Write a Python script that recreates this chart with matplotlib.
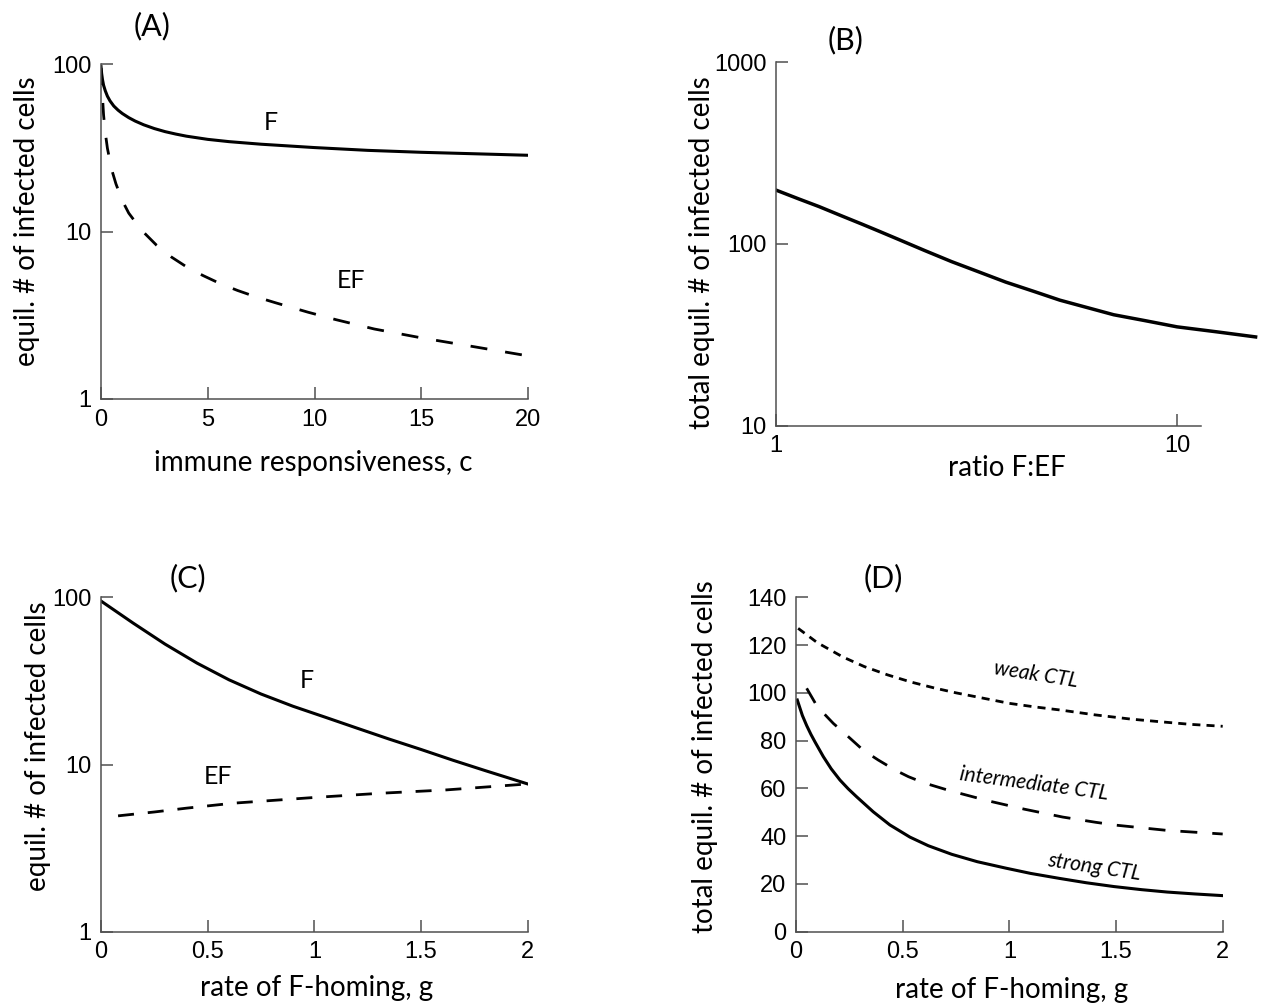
import matplotlib
matplotlib.use('Agg')
import matplotlib.pyplot as plt
from matplotlib.ticker import NullLocator

# ---------------- data ----------------
# Panel A: equilibrium vs immune responsiveness c
A_c_F = [0, 0.03, 0.07, 0.12, 0.2, 0.3, 0.42, 0.6, 0.8, 1.0, 1.3, 1.6, 2.0, 2.5, 3.0, 3.5, 4.0,
         5.0, 6.0, 7.5, 10, 12.5, 15, 17.5, 20]
A_F = [97, 88, 81, 75, 69.5, 64.5, 60.5, 56.3, 53.2, 50.8, 48.0, 45.8, 43.5, 41.3, 39.6, 38.3, 37.2,
       35.6, 34.5, 33.3, 31.8, 30.6, 29.8, 29.2, 28.6]
A_c_EF = [0, 0.05, 0.12, 0.19, 0.3, 0.5, 0.7, 1.0, 1.3, 1.9, 2.6, 3.3, 4.1, 4.8, 5.6, 6.4, 7.2,
          8.2, 9.7, 11, 12.8, 15, 17.5, 20]
A_EF = [95, 70, 50, 40, 31.5, 23.5, 19.3, 15.3, 12.9, 10.2, 8.3, 7.05, 6.05, 5.45, 4.88, 4.45, 4.1,
        3.75, 3.3, 2.98, 2.62, 2.32, 2.05, 1.81]
A_xticks = [0, 5, 10, 15, 20]
A_yticks = [1, 10, 100]

# Panel B: total equilibrium vs ratio F:EF
B_ratio = [1, 1.14, 1.28, 1.45, 1.64, 1.8, 2.01, 2.35, 2.74, 3.2, 3.74, 4.4, 5.1, 5.9, 6.95, 8.3,
           10, 12.5, 15.7]
B_total = [198, 177, 160.7, 143.5, 128.5, 118, 106.5, 92, 80.0, 70.3, 61.7, 54.8, 49.1, 45.0, 40.8,
           37.9, 35.0, 32.9, 30.8]
B_xticks = [1, 10]
B_yticks = [10, 100, 1000]

# Panel C: equilibrium vs rate of F-homing g
C_g_F = [0, 0.15, 0.3, 0.45, 0.6, 0.75, 0.9, 1.05, 1.2, 1.35, 1.5, 1.65, 1.8, 2.0]
C_F = [95, 70.2, 52.5, 40.4, 32.1, 26.4, 22.3, 19.2, 16.5, 14.2, 12.3, 10.6, 9.2, 7.65]
C_g_EF = [0.08, 0.25, 0.4, 0.62, 1.0, 1.31, 1.62, 2.0]
C_EF = [4.93, 5.2, 5.48, 5.87, 6.35, 6.73, 7.05, 7.65]
C_xticks = [0, 0.5, 1, 1.5, 2]
C_xticklabels = ['0', '0.5', '1', '1.5', '2']
C_yticks = [1, 10, 100]

# Panel D: total equilibrium vs g for three CTL strengths
D_g_weak = [0.01, 0.1, 0.22, 0.32, 0.43, 0.54, 0.65, 0.75, 1.0, 1.12, 1.24, 1.4, 1.57, 1.72, 1.85, 2.0]
D_weak = [127, 121, 115, 111, 107.5, 104.5, 102, 100, 95.6, 94.1, 92.8, 90.8, 89, 87.8, 86.8, 86]
D_g_inter = [0.05, 0.1, 0.175, 0.237, 0.315, 0.385, 0.464, 0.527, 0.6, 0.7, 0.765, 0.9, 1.07, 1.25,
             1.405, 1.5, 1.74, 2.0]
D_inter = [101.9, 94.2, 87.2, 82.3, 76, 71.9, 67.7, 64.9, 62.3, 59.6, 58.0, 54.8, 51.3, 48.0,
           45.8, 44.6, 42.4, 40.9]
D_g_strong = [0.006, 0.03, 0.05, 0.07, 0.09, 0.128, 0.165, 0.206, 0.245, 0.284, 0.362, 0.44, 0.534,
              0.62, 0.73, 0.85, 0.984, 1.1, 1.236, 1.36, 1.49, 1.62, 1.74, 1.87, 2.0]
D_strong = [97, 90.5, 86.3, 82.6, 79.3, 73.3, 68.2, 63.5, 59.8, 56.5, 50.2, 44.7, 39.6, 36.0, 32.4,
            29.3, 26.6, 24.4, 22.3, 20.5, 18.9, 17.6, 16.6, 15.8, 15.1]
D_xticks = [0, 0.5, 1, 1.5, 2]
D_xticklabels = ['0', '0.5', '1', '1.5', '2']
D_yticks = [0, 20, 40, 60, 80, 100, 120, 140]

# ---------------- figure ----------------
plt.rcParams['font.family'] = ['Lato', 'DejaVu Sans']
W, H = 1264, 1008
fig = plt.figure(figsize=(W / 100, H / 100), dpi=100)

SPINE = '#505050'
TICKFONT = 'Liberation Sans'
TICKSIZE = 17


def box(l, t, r, b):
    return [l / W, 1 - b / H, (r - l) / W, (b - t) / H]


def ftext(x, y, s, **kw):
    kw.setdefault('ha', 'center')
    kw.setdefault('va', 'center')
    fig.text(x / W, 1 - y / H, s, **kw)


def style(ax, xticks, xlabels, yticks, ylabels):
    for s in ['top', 'right']:
        ax.spines[s].set_visible(False)
    for s in ['left', 'bottom']:
        ax.spines[s].set_color(SPINE)
        ax.spines[s].set_linewidth(1.1)
    ax.set_xticks(xticks)
    ax.set_xticklabels(xlabels, fontfamily=TICKFONT, fontsize=TICKSIZE)
    ax.set_yticks(yticks)
    ax.set_yticklabels(ylabels, fontfamily=TICKFONT, fontsize=TICKSIZE)
    ax.xaxis.set_minor_locator(NullLocator())
    ax.yaxis.set_minor_locator(NullLocator())
    ax.tick_params(direction='in', length=8.5, width=1.1, color=SPINE, pad=7)


LBL = 20
TTL = 22

# ---- Panel A ----
axA = fig.add_axes(box(101, 64.3, 528, 399))
axA.set_yscale('log')
axA.plot(A_c_F, A_F, color='black', lw=2.2)
axA.plot(A_c_EF, A_EF, color='black', lw=2.0, linestyle=(0, (6.1, 6.5)))
axA.set_xlim(0, 20)
axA.set_ylim(1, 100)
style(axA, A_xticks, [str(v) for v in A_xticks], A_yticks, [str(v) for v in A_yticks])
ftext(152, 26, '(A)', fontsize=TTL)
ftext(313, 463, 'immune responsiveness, c', fontsize=LBL)
ftext(27, 221, 'equil. # of infected cells', fontsize=LBL, rotation=90)
ftext(271, 123, 'F', fontsize=18)
ftext(351, 281, 'EF', fontsize=18)

# ---- Panel B ----
axB = fig.add_axes(box(776, 62.3, 1258.9, 425.7))
axB.set_xscale('log')
axB.set_yscale('log')
axB.plot(B_ratio, B_total, color='black', lw=2.5)
axB.set_xlim(1, 16)
axB.set_ylim(10, 1000)
style(axB, B_xticks, ['1', '10'], B_yticks, ['10', '100', '1000'])
axB.spines['bottom'].set_bounds(1, 11.5)
ftext(846, 40, '(B)', fontsize=TTL)
ftext(1007, 468, 'ratio F:EF', fontsize=LBL)
ftext(702, 253, 'total equil. # of infected cells', fontsize=LBL, rotation=90)

# ---- Panel C ----
axC = fig.add_axes(box(101, 597.3, 527.7, 931.7))
axC.set_yscale('log')
axC.plot(C_g_F, C_F, color='black', lw=2.2)
axC.plot(C_g_EF, C_EF, color='black', lw=2.0, linestyle=(0, (5.75, 5.0)))
axC.set_xlim(0, 2)
axC.set_ylim(1, 100)
style(axC, C_xticks, C_xticklabels, C_yticks, [str(v) for v in C_yticks])
ftext(188, 578, '(C)', fontsize=TTL)
ftext(317, 988, 'rate of F-homing, g', fontsize=LBL)
ftext(38, 746, 'equil. # of infected cells', fontsize=LBL, rotation=90)
ftext(307, 681, 'F', fontsize=18)
ftext(218, 777, 'EF', fontsize=18)

# ---- Panel D ----
axD = fig.add_axes(box(796, 597.3, 1222.7, 931.7))
axD.plot(D_g_weak, D_weak, color='black', lw=2.0, linestyle=(0, (2.9, 2.2)))
axD.plot(D_g_inter, D_inter, color='black', lw=2.0, linestyle=(0, (6.1, 5.4)))
axD.plot(D_g_strong, D_strong, color='black', lw=2.2)
axD.set_xlim(0, 2)
axD.set_ylim(0, 140)
style(axD, D_xticks, D_xticklabels, D_yticks, [str(v) for v in D_yticks])
ftext(883, 578, '(D)', fontsize=TTL)
ftext(1012, 990, 'rate of F-homing, g', fontsize=LBL)
ftext(705, 757, 'total equil. # of infected cells', fontsize=LBL, rotation=90)
ftext(1036, 675, 'weak CTL', fontsize=15, style='italic', rotation=-9)
ftext(1034, 784, 'intermediate CTL', fontsize=15, style='italic', rotation=-7.6)
ftext(1094, 867, 'strong CTL', fontsize=15, style='italic', rotation=-8.6)

fig.savefig('out.png', dpi=100)
